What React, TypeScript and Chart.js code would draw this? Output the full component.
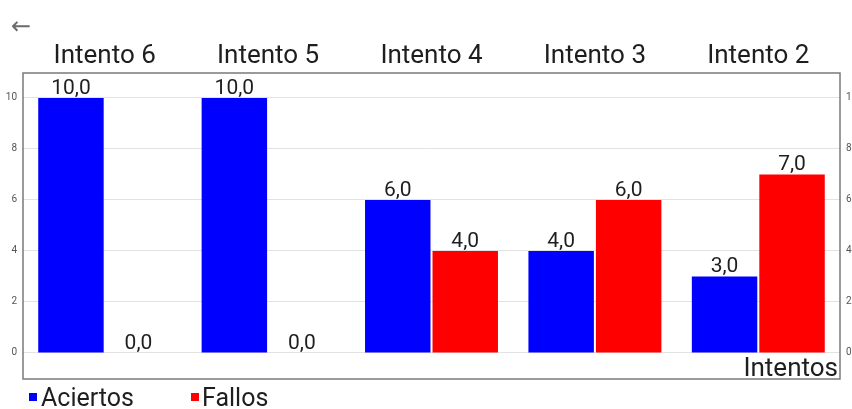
import React, { useEffect, useRef } from "react";
import { Chart, registerables } from "chart.js";

Chart.register(...registerables);

const categories = ["Intento 6", "Intento 5", "Intento 4", "Intento 3", "Intento 2"];
const aciertos = [10, 10, 6, 4, 3];
const fallos = [0, 0, 4, 6, 7];
const yTicks = [0, 2, 4, 6, 8, 10];
const seriesNames = ["Aciertos", "Fallos"];
const axisTitle = "Intentos";

const BLUE = "#0000ff";
const RED = "#ff0000";
const FONT = "Roboto, 'Noto Sans', sans-serif";

const fmt = (v: number) => v.toFixed(1).replace(".", ",");

const framePlugin = {
  id: "frame",
  afterDatasetsDraw(chart: any) {
    const { ctx, chartArea } = chart;
    ctx.save();
    ctx.strokeStyle = "#7a7a7a";
    ctx.lineWidth = 1.5;
    ctx.strokeRect(chartArea.left, chartArea.top, chartArea.right - chartArea.left, chartArea.bottom - chartArea.top);
    ctx.restore();
  },
};

const valueLabels = {
  id: "valueLabels",
  afterDatasetsDraw(chart: any) {
    const { ctx } = chart;
    ctx.save();
    ctx.font = `21px ${FONT}`;
    ctx.fillStyle = "#1e1e1e";
    ctx.textAlign = "center";
    ctx.textBaseline = "alphabetic";
    chart.data.datasets.forEach((ds: any, di: number) => {
      const meta = chart.getDatasetMeta(di);
      meta.data.forEach((bar: any, i: number) => {
        const v = ds.data[i];
        ctx.fillText(fmt(v), bar.x, bar.y - 4);
      });
    });
    ctx.font = `26px ${FONT}`;
    ctx.textAlign = "right";
    ctx.fillText(axisTitle, chart.chartArea.right - 2, chart.chartArea.bottom - 3);
    ctx.restore();
  },
};

function App() {
  const ref = useRef<HTMLCanvasElement | null>(null);
  useEffect(() => {
    if (!ref.current) return;
    const setTicks = (scale: any) => {
      scale.ticks = yTicks.map((v) => ({ value: v }));
    };
    const yCommon = {
      min: -1.02,
      max: 10.98,
      afterBuildTicks: setTicks,
      border: { display: false },
      ticks: { font: { size: 10, family: FONT }, color: "#555", padding: 6 },
    };
    const chart = new Chart(ref.current, {
      type: "bar",
      data: {
        labels: categories,
        datasets: [
          { label: seriesNames[0], data: aciertos, backgroundColor: BLUE, yAxisID: "y" },
          { label: seriesNames[1], data: fallos, backgroundColor: RED, yAxisID: "y" },
        ],
      },
      options: {
        responsive: false,
        animation: false,
        layout: { padding: { top: 0, bottom: 30, left: 0, right: 0 } },
        plugins: { legend: { display: false }, tooltip: { enabled: false } },
        datasets: { bar: { barPercentage: 0.97, categoryPercentage: 0.826 } },
        scales: {
          x: {
            position: "top",
            grid: { display: false, drawTicks: false },
            border: { display: false },
            ticks: { font: { size: 26, family: FONT }, color: "#1e1e1e", padding: 1, maxRotation: 0 },
            afterFit: (s: any) => {
              s.height = 73;
            },
          },
          y: {
            ...yCommon,
            position: "left",
            grid: { color: "#e2e2e2", drawTicks: false, lineWidth: 1 },
            afterFit: (s: any) => {
              s.width = 23;
            },
          },
          y2: {
            ...yCommon,
            position: "right",
            grid: { display: false, drawTicks: false },
            afterFit: (s: any) => {
              s.width = 40;
            },
          },
        },
      } as any,
      plugins: [framePlugin, valueLabels],
    });
    return () => chart.destroy();
  }, []);

  const legendText: React.CSSProperties = {
    position: "absolute",
    top: 385,
    fontFamily: FONT,
    fontSize: 25,
    lineHeight: "25px",
    color: "#1e1e1e",
    whiteSpace: "nowrap",
  };
  const box = (left: number, color: string): React.CSSProperties => ({
    position: "absolute",
    left,
    top: 393,
    width: 8,
    height: 8,
    background: color,
  });

  return (
    <div style={{ position: "fixed", left: 0, top: 0, width: 852, height: 409, overflow: "hidden", background: "#fff" }}>
      <canvas ref={ref} width={880} height={409} style={{ position: "absolute", left: 0, top: 0 }} />
      <div style={{ position: "absolute", left: 11, top: 13, fontFamily: "'DejaVu Sans', sans-serif", fontSize: 24, color: "#6b6b6b", lineHeight: "26px" }}>←</div>
      <div style={box(29, BLUE)} />
      <div style={{ ...legendText, left: 41 }}>{seriesNames[0]}</div>
      <div style={box(191, RED)} />
      <div style={{ ...legendText, left: 202 }}>{seriesNames[1]}</div>
    </div>
  );
}

export default App;
